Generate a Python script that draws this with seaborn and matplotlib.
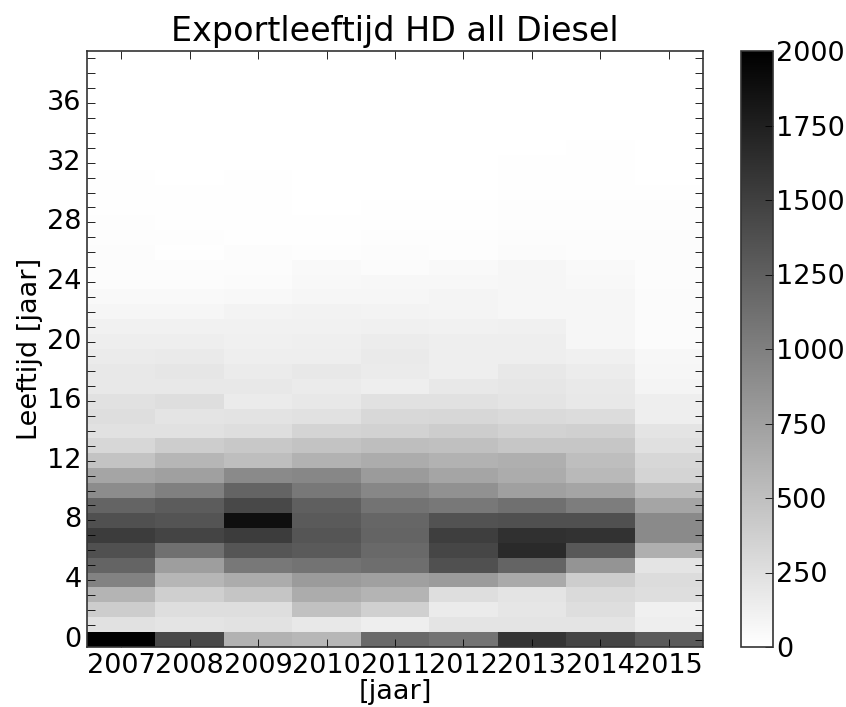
import matplotlib
matplotlib.use("Agg")
import matplotlib.pyplot as plt
import numpy as np
import pandas as pd
import seaborn as sns

years = ["2007", "2008", "2009", "2010", "2011", "2012", "2013", "2014", "2015"]
ages = list(range(40))

y2007 = [2000, 235, 392, 588, 980, 1216, 1373, 1529, 1373, 1216, 902, 706, 471, 314, 235, 259, 235, 180, 180, 157,
         133, 110, 71, 47, 31, 31, 24, 16, 16, 8, 8, 8, 0, 0, 0, 0, 0, 0, 0, 0]
y2008 = [1435, 212, 259, 376, 573, 761, 1122, 1467, 1341, 1278, 996, 745, 573, 392, 235, 212, 259, 180, 196, 165,
         133, 110, 78, 47, 24, 24, 8, 16, 8, 8, 8, 0, 0, 0, 0, 0, 0, 0, 0, 0]
y2009 = [604, 227, 259, 455, 651, 1059, 1333, 1529, 1882, 1435, 1216, 918, 510, 431, 259, 220, 157, 180, 157, 133,
         118, 110, 94, 55, 39, 31, 24, 8, 8, 8, 8, 8, 0, 0, 0, 0, 0, 0, 0, 0]
y2010 = [565, 180, 486, 651, 784, 1098, 1294, 1333, 1294, 1255, 1059, 941, 604, 471, 337, 235, 180, 157, 180, 133,
         125, 110, 102, 78, 55, 47, 16, 8, 8, 0, 0, 0, 0, 0, 0, 0, 0, 0, 0, 0]
y2011 = [1176, 133, 369, 588, 745, 1137, 1176, 1216, 1200, 1098, 941, 784, 651, 510, 353, 306, 235, 133, 157, 165,
         149, 118, 94, 78, 63, 39, 24, 16, 8, 8, 0, 0, 0, 0, 0, 0, 0, 0, 0, 0]
y2012 = [1098, 212, 157, 259, 784, 1373, 1451, 1514, 1357, 1059, 863, 706, 604, 494, 392, 314, 235, 180, 133, 133,
         133, 110, 86, 86, 63, 47, 16, 16, 8, 8, 0, 0, 0, 0, 0, 0, 0, 0, 0, 0]
y2013 = [1592, 212, 196, 212, 667, 1216, 1671, 1624, 1373, 1122, 745, 651, 627, 447, 353, 290, 212, 196, 180, 133,
         133, 118, 78, 78, 71, 71, 39, 24, 16, 16, 8, 8, 8, 0, 0, 0, 0, 0, 0, 0]
y2014 = [1467, 212, 259, 290, 392, 839, 1310, 1608, 1373, 1020, 706, 549, 510, 447, 369, 275, 180, 173, 149, 118,
         71, 71, 71, 71, 55, 47, 31, 24, 16, 16, 8, 8, 8, 8, 0, 0, 0, 0, 0, 0]
y2015 = [1294, 133, 118, 259, 275, 212, 627, 918, 918, 706, 510, 337, 314, 243, 212, 133, 133, 86, 78, 63,
         39, 39, 39, 39, 24, 24, 24, 24, 16, 16, 8, 0, 0, 0, 0, 0, 0, 0, 0, 0]

cbar_ticks = [0, 250, 500, 750, 1000, 1250, 1500, 1750, 2000]

df = pd.DataFrame(
    dict(zip(years, [y2007, y2008, y2009, y2010, y2011, y2012, y2013, y2014, y2015])),
    index=ages,
)
ylabels = [str(a) if a % 4 == 0 else "" for a in ages]

W, H = 846, 707
fig = plt.figure(figsize=(W / 100, H / 100), dpi=100)
ax = fig.add_axes([87 / W, 1 - 647 / H, 616 / W, 596 / H])
cax = fig.add_axes([741 / W, 1 - 647 / H, 32 / W, 596 / H])

sns.heatmap(
    df, ax=ax, cbar_ax=cax, cmap="gray_r", vmin=0, vmax=2000,
    xticklabels=years, yticklabels=ylabels,
    cbar_kws={"ticks": cbar_ticks},
)
ax.invert_yaxis()

ax.tick_params(axis="both", which="major", direction="in", length=6, width=0.6,
               top=True, right=True, labelsize=19.5, pad=4)
ax.tick_params(axis="x", labelrotation=0)
ax.tick_params(axis="y", labelrotation=0)
for side in ax.spines.values():
    side.set_visible(True)
    side.set_linewidth(1.2)
    side.set_color("#333333")

cbar = ax.collections[0].colorbar
cbar.outline.set_visible(True)
cbar.outline.set_linewidth(1.2)
cbar.outline.set_edgecolor("#333333")
cax.tick_params(direction="in", length=6, width=0.6, labelsize=19.5, pad=2)

ax.set_xlabel("[jaar]", fontsize=19.5, labelpad=0)
ax.set_ylabel("Leeftijd [jaar]", fontsize=19.5, labelpad=3)
ax.set_title("Exportleeftijd HD all Diesel", fontsize=24, pad=7)

fig.savefig("out.png", dpi=100)
plt.close(fig)
